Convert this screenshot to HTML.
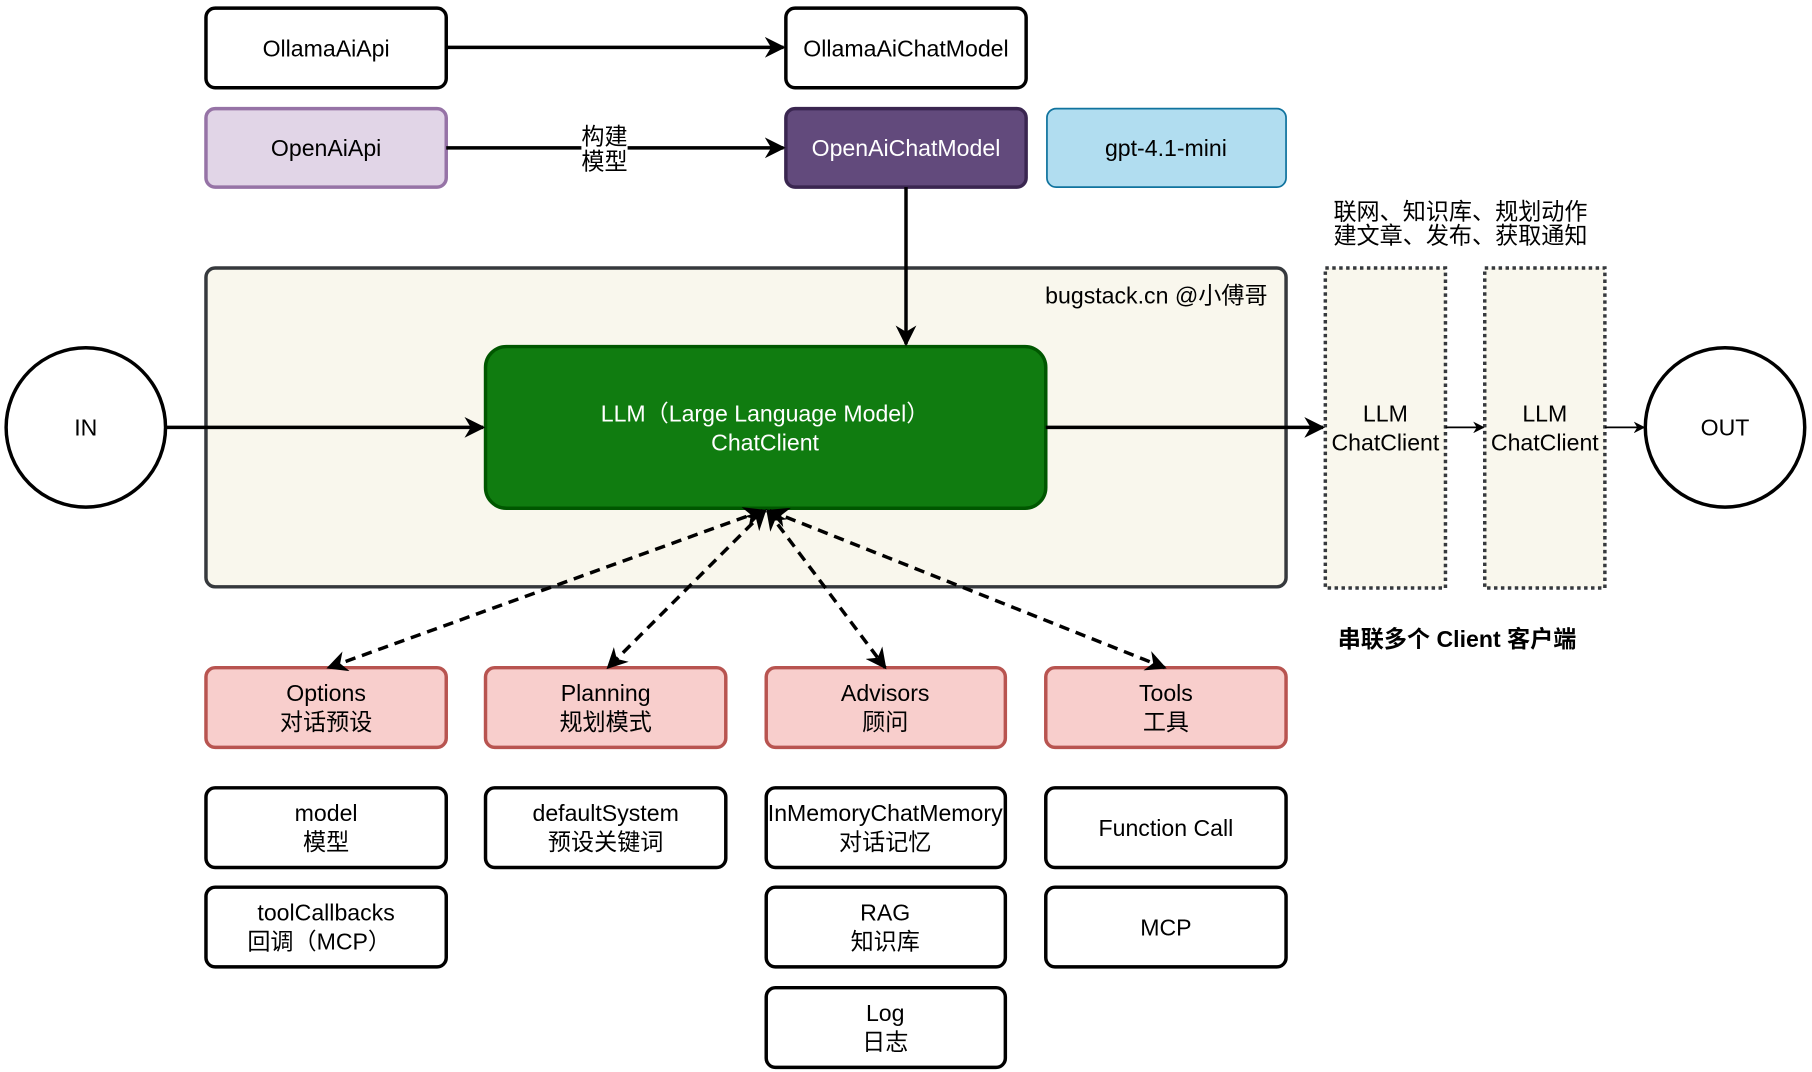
<!DOCTYPE html>
<html><head><meta charset="utf-8"><style>
html,body{margin:0;padding:0;background:#fff}
svg{display:block}
text{font-family:"Liberation Sans","Noto Sans CJK SC",sans-serif;font-size:20px;text-anchor:middle;dominant-baseline:central}
</style></head><body>
<svg width="1812" height="1072" viewBox="0 0 1568 928" xmlns="http://www.w3.org/2000/svg">
<defs>
<marker id="a" markerWidth="10" markerHeight="10" refX="9" refY="5" orient="auto" markerUnits="userSpaceOnUse" viewBox="0 0 10 10"><path d="M0,0 L10,5 L0,10 L3,5z" fill="#000"/></marker>
<marker id="as" viewBox="0 0 10 10" refX="9" refY="5" markerWidth="18" markerHeight="18" orient="auto-start-reverse" markerUnits="userSpaceOnUse"><path d="M0,0 L10,5 L0,10 L3,5z" fill="#000"/></marker>
</defs>
<g stroke-width="3">
<rect x="178" y="7" width="208" height="69" rx="8" fill="#fff" stroke="#000"/>
<rect x="680" y="7" width="208" height="69" rx="8" fill="#fff" stroke="#000"/>
<rect x="178" y="94" width="208" height="68" rx="8" fill="#e1d5e7" stroke="#9673a6"/>
<rect x="680" y="94" width="208" height="68" rx="8" fill="#624a7c" stroke="#3a2650"/>
<rect x="906" y="94" width="207" height="68" rx="8" fill="#b1ddf0" stroke="#10739e" stroke-width="1.5"/>
<rect x="178" y="232" width="935" height="276" rx="8" fill="#f9f7ed" stroke="#36393d"/>
<rect x="420" y="300" width="485" height="140" rx="18" fill="#107c10" stroke="#005700"/>
<circle cx="74" cy="370" r="69" fill="#fff" stroke="#000"/>
<circle cx="1493" cy="370" r="69" fill="#fff" stroke="#000"/>
<rect x="1147" y="232" width="104" height="277" fill="#f9f7ed" stroke="#36393d" stroke-dasharray="3 3"/>
<rect x="1285" y="232" width="104" height="277" fill="#f9f7ed" stroke="#36393d" stroke-dasharray="3 3"/>
<g fill="#f8cecc" stroke="#b85450">
<rect x="178" y="578" width="208" height="69" rx="8"/><rect x="420" y="578" width="208" height="69" rx="8"/>
<rect x="663" y="578" width="207" height="69" rx="8"/><rect x="905" y="578" width="208" height="69" rx="8"/>
</g>
<g fill="#fff" stroke="#000">
<rect x="178" y="682" width="208" height="69" rx="8"/><rect x="178" y="768" width="208" height="69" rx="8"/>
<rect x="420" y="682" width="208" height="69" rx="8"/>
<rect x="663" y="682" width="207" height="69" rx="8"/><rect x="663" y="768" width="207" height="69" rx="8"/><rect x="663" y="855" width="207" height="69" rx="8"/>
<rect x="905" y="682" width="208" height="69" rx="8"/><rect x="905" y="768" width="208" height="69" rx="8"/>
</g>
</g>
<g stroke="#000" stroke-width="3" fill="none">
<line x1="386" y1="41" x2="678" y2="41" marker-end="url(#as)"/>
<line x1="386" y1="128" x2="678" y2="128" marker-end="url(#as)"/>
<line x1="784" y1="162" x2="784" y2="298" marker-end="url(#as)"/>
<line x1="143" y1="370" x2="418" y2="370" marker-end="url(#as)"/>
<line x1="905" y1="370" x2="1145" y2="370" marker-end="url(#as)"/>
<line x1="1251" y1="370" x2="1284" y2="370" stroke-width="1.5" marker-end="url(#a)"/>
<line x1="1389" y1="370" x2="1423" y2="370" stroke-width="1.5" marker-end="url(#a)"/>
<g stroke-dasharray="9 6">
<line x1="660" y1="442" x2="284" y2="578" marker-start="url(#as)" marker-end="url(#as)"/>
<line x1="662" y1="442" x2="526" y2="578" marker-start="url(#as)" marker-end="url(#as)"/>
<line x1="664" y1="442" x2="766" y2="578" marker-start="url(#as)" marker-end="url(#as)"/>
<line x1="666" y1="442" x2="1008" y2="578" marker-start="url(#as)" marker-end="url(#as)"/>
</g>
</g>
<rect x="503" y="106" width="40" height="44" fill="#fff"/>
<text x="523" y="118" font-size="18">构建</text><text x="523" y="140" font-size="18">模型</text>
<text x="282" y="42">OllamaAiApi</text>
<text x="784" y="42">OllamaAiChatModel</text>
<text x="282" y="128">OpenAiApi</text>
<text x="784" y="128" fill="#fff">OpenAiChatModel</text>
<text x="1009" y="128">gpt-4.1-mini</text>
<text x="1097" y="256" font-size="16.5" style="text-anchor:end">bugstack.cn @小傅哥</text>
<text x="662" y="358" fill="#fff">LLM（Large Language Model）</text>
<text x="662" y="383" fill="#fff">ChatClient</text>
<text x="74" y="370">IN</text><text x="1493" y="370">OUT</text>
<text x="1199" y="358">LLM</text><text x="1199" y="383">ChatClient</text>
<text x="1337" y="358">LLM</text><text x="1337" y="383">ChatClient</text>
<text x="1264" y="183" font-size="16.5">联网、知识库、规划动作</text>
<text x="1264" y="204" font-size="16.5">建文章、发布、获取通知</text>
<text x="1261" y="553" font-weight="bold">串联多个 Client 客户端</text>
<text x="282" y="600">Options</text><text x="282" y="625">对话预设</text>
<text x="524" y="600">Planning</text><text x="524" y="625">规划模式</text>
<text x="766" y="600">Advisors</text><text x="766" y="625">顾问</text>
<text x="1009" y="600">Tools</text><text x="1009" y="625">工具</text>
<text x="282" y="704">model</text><text x="282" y="729">模型</text>
<text x="282" y="790">toolCallbacks</text><text x="276" y="815">回调（MCP）</text>
<text x="524" y="704">defaultSystem</text><text x="524" y="729">预设关键词</text>
<text x="766" y="704">InMemoryChatMemory</text><text x="766" y="729">对话记忆</text>
<text x="766" y="790">RAG</text><text x="766" y="815">知识库</text>
<text x="766" y="877">Log</text><text x="766" y="902">日志</text>
<text x="1009" y="717">Function Call</text>
<text x="1009" y="803">MCP</text>
</svg>
</body></html>
